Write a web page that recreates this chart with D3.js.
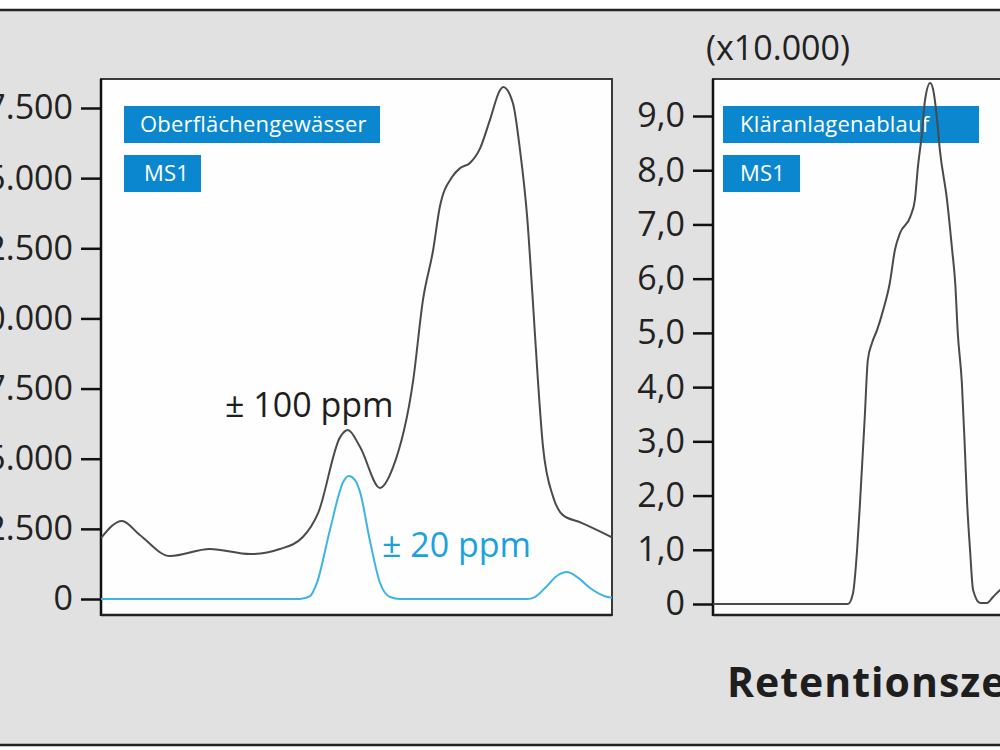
<!DOCTYPE html>
<html>
<head>
<meta charset="utf-8">
<script src="https://cdn.jsdelivr.net/npm/d3@7"></script>
<style>
  body { margin: 0; background: #fff; }
  svg { display: block; font-family: "Open Sans", sans-serif; }
</style>
</head>
<body>
<script>
//Width and height
var w = 1000;
var h = 750;

//Retention time (min) and intensity, left panel (Oberflächengewässer)
var leftTime100 = [0, 0.41, 0.76, 1.35, 2.13, 2.92, 3.50, 3.95, 4.25, 4.68, 4.83, 5.07, 5.46, 5.71, 6.11, 6.30, 6.50, 6.63, 6.87, 7.03, 7.22, 7.42, 7.61, 7.81, 7.87, 8.06, 8.20, 8.34, 8.45, 8.55, 8.65, 8.85, 9.04, 9.37, 10.0];
var leftCounts100 = [2170, 2780, 2280, 1530, 1780, 1600, 1780, 2210, 3070, 5770, 6020, 5420, 3960, 4670, 7800, 10650, 12440, 13970, 15040, 15360, 15540, 16070, 17070, 18140, 18250, 17680, 16000, 13610, 10650, 7800, 5420, 3630, 2990, 2740, 2200];

var leftTime20 = [0, 3.89, 4.09, 4.23, 4.48, 4.74, 4.85, 4.97, 5.07, 5.26, 5.46, 5.66, 5.85, 8.34, 8.49, 8.69, 8.92, 9.12, 9.32, 9.57, 9.86, 10.0];
var leftCounts20 = [0, 0, 100, 600, 2460, 4170, 4380, 4240, 3810, 2100, 570, 70, 0, 0, 70, 390, 820, 960, 780, 390, 100, 40];

//Right panel (Kläranlagenablauf), intensity x10.000
var rightTime = [0, 2.64, 2.74, 2.82, 2.88, 2.97, 3.03, 3.11, 3.21, 3.33, 3.46, 3.56, 3.66, 3.86, 3.95, 4.01, 4.09, 4.15, 4.25, 4.31, 4.38, 4.44, 4.58, 4.68, 4.74, 4.79, 4.87, 4.93, 4.97, 5.03, 5.09, 5.23, 5.36, 5.48, 5.62, 5.85];
var rightCounts = [0, 0, 0.20, 1.00, 1.92, 3.45, 4.50, 4.81, 5.05, 5.42, 5.92, 6.53, 6.84, 7.14, 7.45, 8.06, 8.69, 9.30, 9.61, 9.48, 8.98, 8.37, 7.45, 6.53, 5.92, 5.00, 4.08, 2.84, 1.92, 1.00, 0.26, 0.02, 0.02, 0.13, 0.26, 0.40];

//Tick values
var leftTicks = [0, 2500, 5000, 7500, 10000, 12500, 15000, 17500];
var rightTicks = [0, 1, 2, 3, 4, 5, 6, 7, 8, 9];

//German number formatting
var de = d3.formatLocale({decimal: ",", thousands: ".", grouping: [3], currency: ["", " €"]});
var fmtThousands = de.format(",.0f");
var fmtOne = de.format(".1f");

//Create SVG element
var svg = d3.select("body")
            .append("svg")
            .attr("width", w)
            .attr("height", h);

//Grey background with top and bottom rules
svg.append("rect")
   .attr("x", 0).attr("y", 10)
   .attr("width", w).attr("height", 735)
   .attr("fill", "#e1e1e1");
svg.append("line").attr("x1", 0).attr("x2", w).attr("y1", 10).attr("y2", 10)
   .attr("stroke", "#222").attr("stroke-width", 2.5);
svg.append("line").attr("x1", 0).attr("x2", w).attr("y1", 745).attr("y2", 745)
   .attr("stroke", "#222").attr("stroke-width", 2.5);

var defs = svg.append("defs");

function panel(id, left, right, top, bottom) {
    defs.append("clipPath").attr("id", id)
        .append("rect")
        .attr("x", left).attr("y", top)
        .attr("width", right - left).attr("height", bottom - top);

    svg.append("rect")
       .attr("x", left).attr("y", top)
       .attr("width", right - left).attr("height", bottom - top)
       .attr("fill", "#fefefe")
       .attr("stroke", "#3a3a3a")
       .attr("stroke-width", 2);
    //heavier left and bottom edges
    svg.append("line").attr("x1", left).attr("x2", left).attr("y1", top).attr("y2", bottom + 1)
       .attr("stroke", "#111").attr("stroke-width", 2.5);
    svg.append("line").attr("x1", left).attr("x2", right).attr("y1", bottom).attr("y2", bottom)
       .attr("stroke", "#222").attr("stroke-width", 2.5);
}

function tag(x, y, bw, text, tx) {
    svg.append("rect")
       .attr("x", x).attr("y", y)
       .attr("width", bw).attr("height", 37)
       .attr("fill", "#0a87cf");
    svg.append("text")
       .attr("x", tx).attr("y", y + 26)
       .attr("fill", "#fff")
       .style("font-size", "22px")
       .style("letter-spacing", "0.2px")
       .text(text);
}

function styleAxis(g) {
    g.select(".domain").remove();
    g.selectAll(".tick line").attr("stroke", "#111").attr("stroke-width", 2.5);
    g.selectAll(".tick text")
     .attr("fill", "#222")
     .style("font-size", "34px")
     .style("font-family", "'Open Sans', sans-serif");
}

//---------------- Left panel ----------------
var xL = d3.scaleLinear().domain([0, 10]).range([101, 612]);
var yL = d3.scaleLinear().domain([0, 17500]).range([599, 108]);

panel("clipL", 101, 612, 79, 615);
tag(124, 106, 256, "Oberflächengewässer", 140);
tag(124, 155, 77, "MS1", 144);

svg.append("g")
   .attr("transform", "translate(101,0)")
   .call(d3.axisLeft(yL).tickValues(leftTicks).tickSize(20).tickPadding(8).tickFormat(function(d) {
       return d === 0 ? "0" : fmtThousands(d);
   }))
   .call(styleAxis);

var lineL100 = d3.line()
    .x(function(d, i) { return xL(leftTime100[i]); })
    .y(function(d) { return yL(d); })
    .curve(d3.curveMonotoneX);
var lineL20 = d3.line()
    .x(function(d, i) { return xL(leftTime20[i]); })
    .y(function(d) { return yL(d); })
    .curve(d3.curveMonotoneX);

svg.append("path")
   .datum(leftCounts20)
   .attr("clip-path", "url(#clipL)")
   .attr("d", lineL20)
   .attr("fill", "none")
   .attr("stroke", "#3cb4e6")
   .attr("stroke-width", 2);

svg.append("path")
   .datum(leftCounts100)
   .attr("clip-path", "url(#clipL)")
   .attr("d", lineL100)
   .attr("fill", "none")
   .attr("stroke", "#4a4a4a")
   .attr("stroke-width", 2);

svg.append("text")
   .attr("x", 225).attr("y", 417)
   .attr("fill", "#1e1e1e")
   .style("font-size", "34px")
   .text("± 100 ppm");

svg.append("text")
   .attr("x", 382).attr("y", 557)
   .attr("fill", "#1ba2dc")
   .style("font-size", "34px")
   .text("± 20 ppm");

//---------------- Right panel ----------------
var xR = d3.scaleLinear().domain([0, 10]).range([713, 1224]);
var yR = d3.scaleLinear().domain([0, 9]).range([604, 116]);

panel("clipR", 713, 1224, 79, 615);
tag(723, 106, 256, "Kläranlagenablauf", 740);
tag(723, 155, 77, "MS1", 740);

svg.append("g")
   .attr("transform", "translate(713,0)")
   .call(d3.axisLeft(yR).tickValues(rightTicks).tickSize(20).tickPadding(8).tickFormat(function(d) {
       return d === 0 ? "0" : fmtOne(d);
   }))
   .call(styleAxis);

var lineR = d3.line()
    .x(function(d, i) { return xR(rightTime[i]); })
    .y(function(d) { return yR(d); })
    .curve(d3.curveMonotoneX);

svg.append("path")
   .datum(rightCounts)
   .attr("clip-path", "url(#clipR)")
   .attr("d", lineR)
   .attr("fill", "none")
   .attr("stroke", "#4a4a4a")
   .attr("stroke-width", 2);

svg.append("text")
   .attr("x", 706).attr("y", 60)
   .attr("fill", "#222")
   .style("font-size", "34px")
   .text("(x10.000)");

//x axis title
svg.append("text")
   .attr("x", 727).attr("y", 697)
   .attr("fill", "#1e1e1e")
   .style("font-size", "41px")
   .style("font-weight", "bold")
   .style("letter-spacing", "1px")
   .text("Retentionszeit (min)");
</script>
</body>
</html>
